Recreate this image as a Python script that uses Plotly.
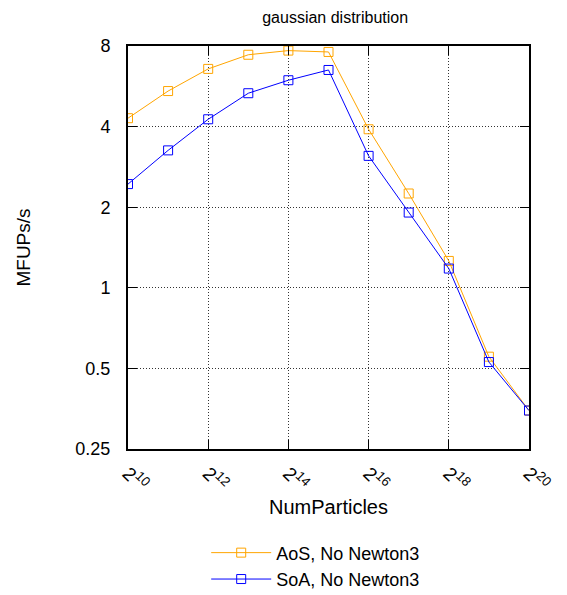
import plotly.graph_objects as go

num_particles = [2**k for k in range(10, 21)]
aos_values = [4.30, 5.43, 6.57, 7.42, 7.69, 7.60, 3.91, 2.25, 1.26, 0.553, 0.348]
soa_values = [2.44, 3.26, 4.26, 5.33, 5.96, 6.51, 3.11, 1.91, 1.18, 0.528, 0.348]
x_tickvals = [2**k for k in range(10, 21, 2)]
x_ticktext = ["2<sup>%d</sup>" % k for k in range(10, 21, 2)]
y_tickvals = [0.25, 0.5, 1, 2, 4, 8]
y_ticktext = ["0.25", "0.5", "1", "2", "4", "8"]

FONT = "Liberation Sans, Arial, sans-serif"

fig = go.Figure()
fig.add_trace(go.Scatter(
    x=num_particles, y=aos_values, mode="lines+markers", name="AoS, No Newton3",
    line=dict(color="#FFA500", width=1),
    marker=dict(symbol="square-open", size=9, color="#FFA500", line=dict(width=1)),
))
fig.add_trace(go.Scatter(
    x=num_particles, y=soa_values, mode="lines+markers", name="SoA, No Newton3",
    line=dict(color="#0000FF", width=1),
    marker=dict(symbol="square-open", size=9, color="#0000FF", line=dict(width=1)),
))

axis_common = dict(
    showline=True, linecolor="black", linewidth=2, mirror="allticks",
    ticks="inside", ticklen=9, tickcolor="black",
    showgrid=True, gridcolor="#333333", griddash="1px,2px", gridwidth=1,
    zeroline=False,
)

fig.update_xaxes(
    type="log", range=[10 * 0.30103, 20 * 0.30103],
    tickvals=x_tickvals, ticktext=x_ticktext, tickangle=45,
    ticklabelstandoff=4,
    tickfont=dict(family=FONT, size=19, color="black"),
    title=dict(text="NumParticles", font=dict(family=FONT, size=20, color="black"), standoff=2),
    **axis_common,
)
fig.update_yaxes(
    type="log", range=[-0.60206, 0.90309],
    tickvals=y_tickvals, ticktext=y_ticktext,
    ticklabelstandoff=12,
    tickfont=dict(family=FONT, size=18, color="black"),
    title=dict(text="MFUPs/s", font=dict(family=FONT, size=19, color="black"), standoff=40),
    **axis_common,
)

fig.update_layout(
    width=567, height=595,
    margin=dict(l=120, r=46, t=38, b=154, autoexpand=False),
    paper_bgcolor="white", plot_bgcolor="white",
    title=dict(text="gaussian distribution", x=0.577, xanchor="center", y=0.984, yanchor="middle",
               font=dict(family=FONT, size=16, color="black")),
    legend=dict(x=0.195, xanchor="left", y=-0.212, yanchor="top",
                font=dict(family=FONT, size=18, color="black"),
                bgcolor="rgba(0,0,0,0)", tracegroupgap=0, itemwidth=60),
    showlegend=True,
)

fig.write_html("out.html")
